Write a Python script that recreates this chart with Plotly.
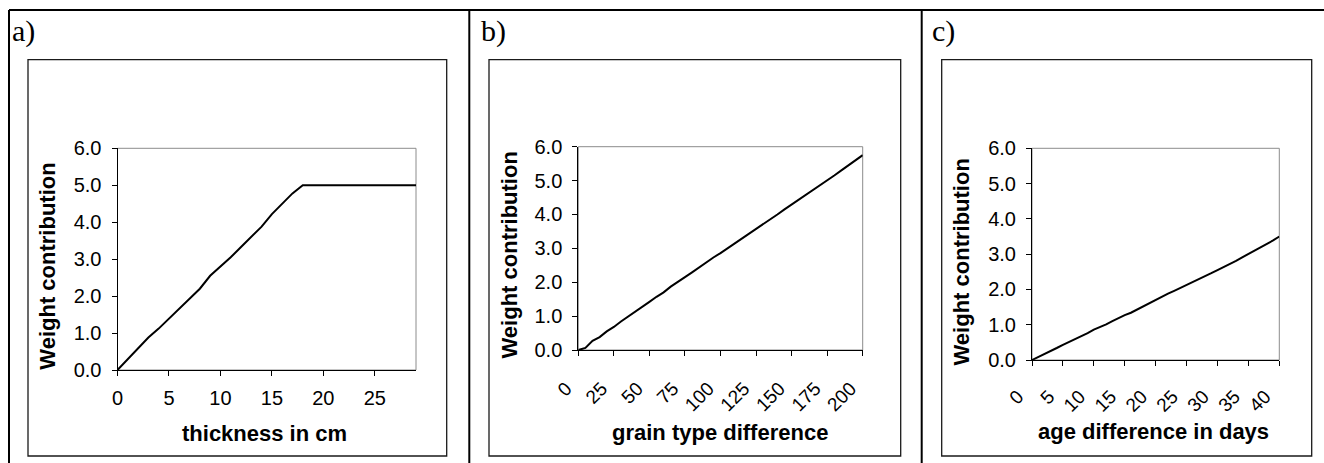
import plotly.graph_objects as go

W, H = 1324, 463

# ---- data -------------------------------------------------------------
thickness_cm = list(range(0, 30))
thickness_weight = [0, 0.29, 0.57, 0.88, 1.12, 1.39, 1.67, 1.94, 2.20, 2.55,
                    2.80, 3.05, 3.33, 3.60, 3.88, 4.22, 4.50, 4.78, 5.00, 5.00,
                    5.00, 5.00, 5.00, 5.00, 5.00, 5.00, 5.00, 5.00, 5.00, 5.00]

grain_diff = list(range(0, 201, 5))
grain_weight = [0, 0.06, 0.27, 0.38, 0.55, 0.68, 0.84, 0.98, 1.14, 1.28,
                1.42, 1.57, 1.70, 1.87, 2.00, 2.15, 2.29, 2.44, 2.58, 2.73,
                2.86, 3.00, 3.14, 3.29, 3.43, 3.57, 3.72, 3.86, 4.00, 4.15,
                4.29, 4.44, 4.58, 4.72, 4.87, 5.00, 5.15, 5.30, 5.45, 5.62,
                5.75]

age_days = list(range(0, 41))
age_weight = [0, 0.08, 0.16, 0.26, 0.34, 0.43, 0.51, 0.59, 0.67, 0.76,
              0.86, 0.93, 1.01, 1.10, 1.19, 1.27, 1.34, 1.43, 1.52, 1.62,
              1.72, 1.80, 1.88, 1.96, 2.04, 2.12, 2.20, 2.28, 2.37, 2.46,
              2.55, 2.63, 2.72, 2.81, 2.91, 3.00, 3.09, 3.19, 3.29, 3.39,
              3.50]

thickness_ticks = [0, 5, 10, 15, 20, 25]
grain_ticks = [0, 25, 50, 75, 100, 125, 150, 175, 200]
age_ticks = [0, 5, 10, 15, 20, 25, 30, 35, 40]
weight_ticks = [0, 1, 2, 3, 4, 5, 6]

panel_labels = ["a)", "b)", "c)"]
x_titles = ["thickness in cm", "grain type difference", "age difference in days"]
y_title = "Weight contribution"


def px(x):
    return x / W


def py(y):
    return 1 - y / H


# plot areas in pixels: (left, right, top, bottom)
plot_px = [(117.5, 416.0, 148.3, 370.0),
           (578.3, 862.7, 146.7, 350.0),
           (1032.0, 1279.3, 148.3, 360.0)]
# chart frames in pixels
frame_px = [(28.0, 446.7, 59.7, 456.0),
            (489.0, 900.7, 59.7, 456.0),
            (941.7, 1311.7, 59.7, 456.0)]

# x values, y values, tick values, x range, label angle, label standoff, label shift
series = [(thickness_cm, thickness_weight, thickness_ticks, [0, 29], 0, 5, 0),
          (grain_diff, grain_weight, grain_ticks, [0, 200], -45, 14, -12),
          (age_days, age_weight, age_ticks, [0, 40], -45, 12, -14)]

fig = go.Figure()
tick_font = dict(family="Liberation Sans, Arial, sans-serif", size=20, color="black")
rot_tick_font = dict(family="Liberation Sans, Arial, sans-serif", size=19, color="black")
title_font = dict(family="Liberation Sans, Arial, sans-serif", size=22, color="black",
                  weight="bold")

layout = dict(
    width=W, height=H,
    margin=dict(l=0, r=0, t=0, b=0, pad=0, autoexpand=False),
    paper_bgcolor="white", plot_bgcolor="rgba(0,0,0,0)",
    showlegend=False,
)

shapes = []
annotations = []

for i, ((xs, ys, ticks, xr, angle, stand, shift), (l, r, t, b), (fl, fr, ft, fb)) in enumerate(
        zip(series, plot_px, frame_px)):
    n = "" if i == 0 else str(i + 1)
    fig.add_trace(go.Scatter(x=xs, y=ys, mode="lines",
                             line=dict(color="black", width=2),
                             xaxis="x" + n, yaxis="y" + n, hoverinfo="skip"))
    layout["xaxis" + n] = dict(
        domain=[px(l), px(r)], range=xr, anchor="y" + n, automargin=False,
        tickmode="array", tickvals=ticks, ticktext=[str(v) for v in ticks],
        tickangle=angle, ticks="outside", ticklen=5, tickwidth=1, tickcolor="black",
        showline=True, linecolor="black", linewidth=1,
        showgrid=False, zeroline=False,
        tickfont=tick_font if angle == 0 else rot_tick_font,
        ticklabelstandoff=stand, ticklabelshift=shift,
    )
    layout["yaxis" + n] = dict(
        domain=[py(b), py(t)], range=[0, 6], anchor="x" + n, automargin=False,
        tickmode="array", tickvals=weight_ticks,
        ticktext=[f"{v:.1f}" for v in weight_ticks],
        ticks="outside", ticklen=5, tickwidth=1, tickcolor="black",
        showline=True, linecolor="black", linewidth=1,
        showgrid=False, zeroline=False, tickfont=tick_font,
        ticklabelstandoff=6,
    )
    # grey plot-area border
    shapes.append(dict(type="rect", xref="x" + n + " domain", yref="y" + n + " domain",
                       x0=0, x1=1, y0=0, y1=1, line=dict(color="#8c8c8c", width=1),
                       layer="below"))
    # chart frame
    shapes.append(dict(type="rect", xref="paper", yref="paper",
                       x0=px(fl), x1=px(fr), y0=py(fb), y1=py(ft),
                       line=dict(color="#1a1a1a", width=1.3)))

# table grid lines
table_lines = [(9, 10, W, 10), (9, 10, 9, H), (469.3, 10, 469.3, H), (921.7, 10, 921.7, H)]
for x0, y0, x1, y1 in table_lines:
    shapes.append(dict(type="line", xref="paper", yref="paper",
                       x0=px(x0), y0=py(y0), x1=px(x1), y1=py(y1),
                       line=dict(color="black", width=2)))

# panel letters
for lab, xl in zip(panel_labels, [10, 479, 930]):
    annotations.append(dict(text=lab, xref="paper", yref="paper", x=px(xl), y=py(31),
                            xanchor="left", yanchor="middle", showarrow=False,
                            font=dict(family="Liberation Serif, Times New Roman, serif",
                                      size=30, color="black")))

# axis titles
x_title_pos = [(264, 433), (720, 432), (1153, 431)]
y_title_pos = [(46.7, 266), (508.5, 255), (960.5, 262)]
for txt, (xt, yt), (xy, yy) in zip(x_titles, x_title_pos, y_title_pos):
    annotations.append(dict(text=txt, xref="paper", yref="paper", x=px(xt), y=py(yt),
                            xanchor="center", yanchor="middle", showarrow=False,
                            font=title_font))
    annotations.append(dict(text=y_title, xref="paper", yref="paper", x=px(xy), y=py(yy),
                            xanchor="center", yanchor="middle", showarrow=False,
                            textangle=-90, font=title_font))

layout["shapes"] = shapes
layout["annotations"] = annotations
fig.update_layout(**layout)
fig.write_html("out.html")
